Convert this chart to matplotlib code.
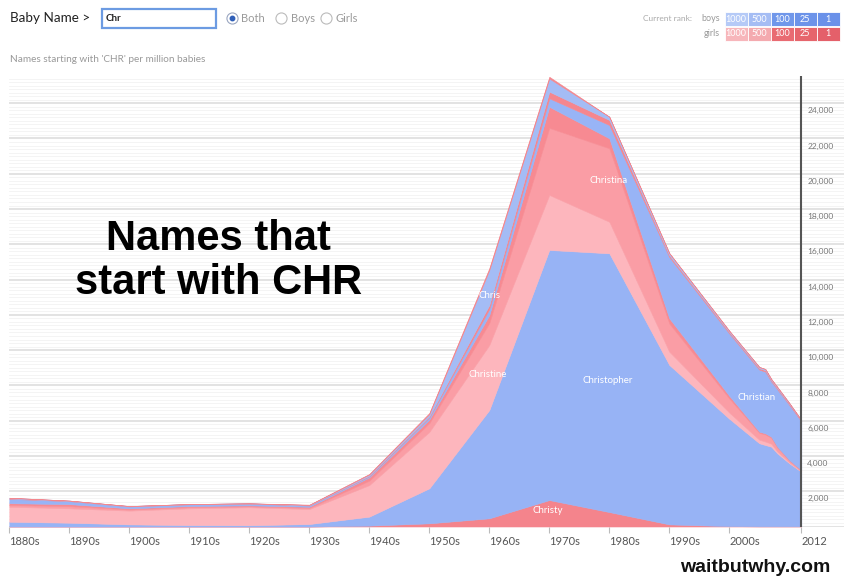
"""
Names starting with 'CHR' per million babies (waitbutwhy baby-name chart).
"""
import matplotlib
matplotlib.use("Agg")
import matplotlib.pyplot as plt
from matplotlib.lines import Line2D
from matplotlib.patches import Rectangle
from matplotlib.ticker import MultipleLocator

years = [1880, 1890, 1900, 1910, 1920, 1930, 1940, 1950, 1960, 1970,
         1980, 1990, 2000, 2005, 2006, 2007, 2008, 2010, 2012]

# stacked layers, bottom to top (per million babies)
christy = [0, 0, 0, 0, 0, 0, 50, 180, 465, 1500,
           820, 120, 20, 10, 10, 10, 10, 10, 10]
christopher = [270, 215, 120, 80, 70, 140, 510, 1985, 6140, 14180,
               14670, 9040, 6090, 4710, 4610, 4515, 4140, 3575, 3095]
christine = [850, 815, 780, 950, 1020, 850, 1790, 3200, 3685, 3120,
             1790, 750, 350, 200, 200, 170, 110, 55, 30]
christina = [100, 120, 70, 70, 60, 70, 250, 500, 1250, 3800,
             4165, 1600, 800, 390, 400, 340, 225, 110, 55]
christie = [100, 120, 60, 60, 50, 60, 190, 200, 450, 1200,
            565, 295, 150, 65, 65, 55, 40, 20, 10]
christian = [250, 170, 110, 100, 100, 70, 60, 120, 340, 480,
             755, 3475, 3535, 3520, 3495, 3130, 3255, 3120, 2760]
christa = [20, 10, 10, 10, 10, 10, 30, 60, 230, 375,
           285, 100, 80, 80, 80, 75, 70, 60, 45]
chris = [40, 20, 10, 5, 5, 20, 70, 130, 1985, 745,
         185, 120, 70, 70, 70, 65, 60, 50, 35]
other = [0, 0, 0, 0, 0, 20, 30, 60, 105, 100,
         0, 0, 0, 0, 0, 0, 0, 0, 0]

layer_colors = ['#F4848C', '#97B3F5', '#FDB6BD', '#FA9DA5', '#F78A92',
                '#98B4F6', '#F5868E', '#A4BCF5', '#F4878E']

tick_years = [1880, 1890, 1900, 1910, 1920, 1930, 1940, 1950, 1960, 1970,
              1980, 1990, 2000, 2012]
tick_labels = ['1880s', '1890s', '1900s', '1910s', '1920s', '1930s', '1940s',
               '1950s', '1960s', '1970s', '1980s', '1990s', '2000s', '2012']

name_labels = ['Christy', 'Christopher', 'Christine', 'Christina', 'Christian', 'Chris']
label_x = [1969.8, 1979.8, 1959.8, 1979.8, 2004.6, 1960.1]
label_y = [935, 8250, 8590, 19590, 7340, 13125]

W, H = 844, 580


def fx(x):
    return x / W


def fy(y):
    return 1 - y / H


plt.rcParams['font.family'] = ['Lato', 'DejaVu Sans']

fig = plt.figure(figsize=(W / 100, H / 100), dpi=100)
fig.patch.set_facecolor('white')

ax = fig.add_axes([fx(9.3), fy(526.5), (W - 9.3) / W, (526.5 - 76) / H])
ax.set_xlim(1880, 1880 + (W - 9.3) / 6.0)
ax.set_ylim(0, 25543)

ax.stackplot(years, christy, christopher, christine, christina, christie,
             christian, christa, chris, other,
             colors=layer_colors, linewidth=0.4, edgecolor='face', zorder=3)

# background stripes and grid
ax.yaxis.set_major_locator(MultipleLocator(2000))
ax.yaxis.set_minor_locator(MultipleLocator(200))
ax.grid(axis='y', which='major', color='#DEDEDE', linewidth=1.2, zorder=0)
ax.grid(axis='y', which='minor', color='#F3F3F3', linewidth=0.6, zorder=0)
ax.set_axisbelow(True)
for s in ax.spines.values():
    s.set_visible(False)
ax.axvline(2012, color='#555555', linewidth=1.5, zorder=4)

ax.tick_params(axis='y', which='both', left=False, labelleft=False)
ax.set_xticks(tick_years)
ax.set_xticklabels(tick_labels)
ax.tick_params(axis='x', which='both', length=4, color='#BBBBBB', labelsize=8,
               labelcolor='#555555', pad=3)
for lbl in ax.get_xticklabels():
    lbl.set_ha('left')

for v in range(2000, 25000, 2000):
    ax.text(2013, v - 230, f"{v:,}", fontsize=6, color='#777777',
            ha='left', va='top', zorder=5)

for name, x, y in zip(name_labels, label_x, label_y):
    ax.text(x, y, name, fontsize=7, color='white', ha='center', va='center', zorder=6)

ax.text(1914.8, 15050, "Names that\nstart with CHR", fontsize=30, fontweight='bold',
        family=['Liberation Sans', 'DejaVu Sans'], color='black',
        ha='center', va='center', linespacing=1.12, zorder=6)

# header controls
fig.text(fx(10), fy(18), "Baby Name >", fontsize=9.7, color='#222222', va='center')
fig.add_artist(Rectangle((fx(102), fy(28)), (216 - 102) / W, 19 / H,
                         transform=fig.transFigure, facecolor='white',
                         edgecolor='#6C9BE2', linewidth=1.6))
fig.text(fx(106), fy(18.5), "Chr", fontsize=7, fontweight='bold', color='#222222', va='center')
radio = [(232, 'Both', True), (281, 'Boys', False), (326, 'Girls', False)]
for x, txt, on in radio:
    fig.add_artist(Line2D([fx(x)], [fy(18)], marker='o', markersize=8,
                          markerfacecolor='white', markeredgecolor='#9AA6C0' if on else '#BBBBBB',
                          markeredgewidth=0.8, transform=fig.transFigure))
    if on:
        fig.add_artist(Line2D([fx(x)], [fy(18)], marker='o', markersize=3.2,
                              markerfacecolor='#2F5FB8', markeredgecolor='#2F5FB8',
                              transform=fig.transFigure))
    fig.text(fx(x + 9.5), fy(18), txt, fontsize=8, color='#9A9A9A', va='center')

fig.text(fx(10), fy(60), "Names starting with 'CHR' per million babies",
         fontsize=7.2, color='#999999', va='center')

# current rank legend
fig.text(fx(692), fy(18.5), "Current rank:", fontsize=6, color='#AAAAAA', va='center', ha='right')
fig.text(fx(720), fy(18.5), "boys", fontsize=6.5, color='#999999', va='center', ha='right')
fig.text(fx(720), fy(33.5), "girls", fontsize=6.5, color='#999999', va='center', ha='right')
rank_text = ['1000', '500', '100', '25', '1']
boy_cols = ['#B5CAF7', '#A5BDF4', '#7097EA', '#6C93E9', '#6A91E9']
girl_cols = ['#F7B6BB', '#F4AAAF', '#E96B72', '#E6656C', '#E4606A']
box_x = [725, 748, 771, 794, 817]
for i, t in enumerate(rank_text):
    for y0, cols in ((12, boy_cols), (27, girl_cols)):
        fig.add_artist(Rectangle((fx(box_x[i]), fy(y0 + 14)), 22.5 / W, 14 / H,
                                 transform=fig.transFigure, facecolor=cols[i],
                                 edgecolor='white', linewidth=0.6))
        fig.text(fx(box_x[i] + 11.25), fy(y0 + 7), t, fontsize=6.5, color='white',
                 ha='center', va='center')

fig.text(fx(830), fy(567), "waitbutwhy.com", fontsize=14, fontweight='bold',
         family=['Liberation Sans', 'DejaVu Sans'], color='#111111',
         ha='right', va='center')

fig.savefig("out.png", dpi=100)
